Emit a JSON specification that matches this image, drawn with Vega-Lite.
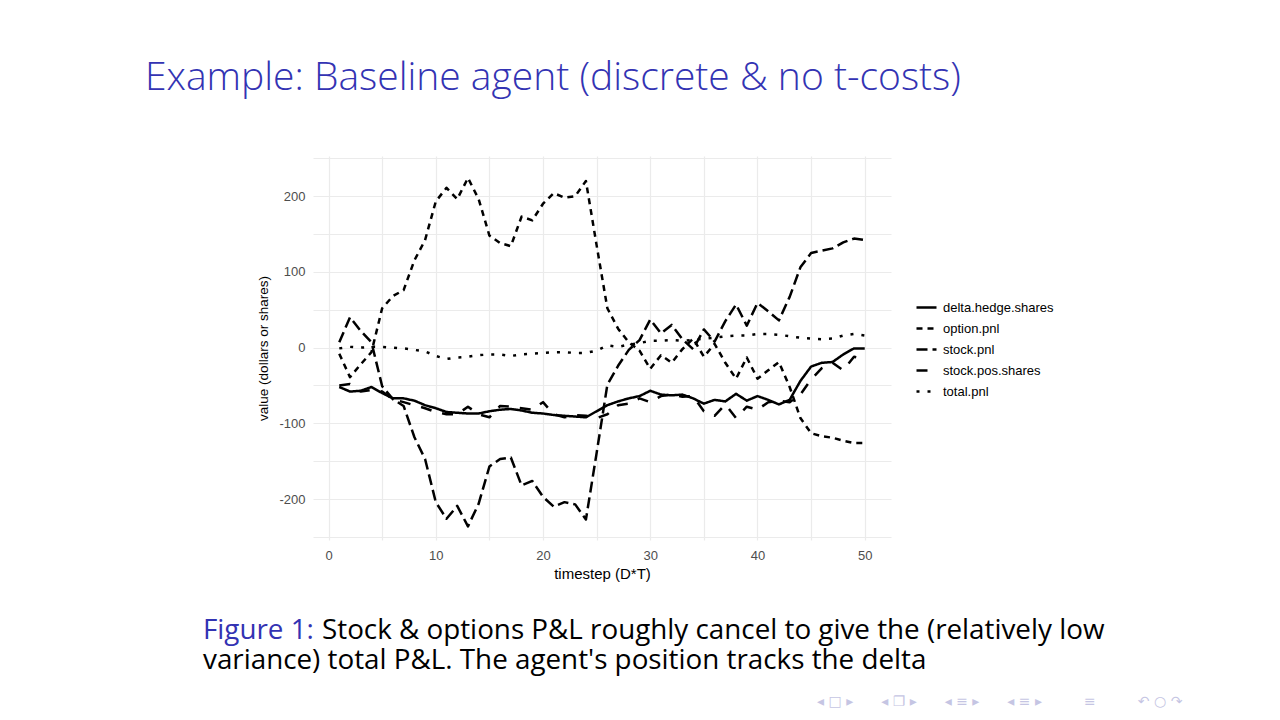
{
  "$schema": "https://vega.github.io/schema/vega-lite/v6.json",
  "background": "white",
  "padding": {"left": 145, "top": 59, "right": 0, "bottom": 0},
  "config": {"view": {"stroke": null}, "concat": {"spacing": 0}},
  "title": {"text": "◂ □ ▸\u2003\u2003◂ ❐ ▸\u2003\u2003◂ ≡ ▸\u2003\u2003◂ ≡ ▸\u2003\u2003\u2003≡\u2003\u2003\u2003↶ ○ ↷", "orient": "bottom", "anchor": "start", "frame": "group", "dx": 504, "offset": 31, "baseline": "alphabetic", "font": "DejaVu Sans", "fontSize": 14, "fontWeight": "normal", "color": "#c5c5e3"},
  "vconcat": [{
    "title": {"text": "Figure 1:", "orient": "bottom", "anchor": "start", "frame": "group", "dx": -110, "offset": -35.6, "baseline": "alphabetic", "font": "Open Sans", "fontSize": 27.8, "fontWeight": "normal", "color": "#3333b3"},
    "vconcat": [{
      "title": {"text": "variance) total P&L. The agent's position tracks the delta", "orient": "bottom", "anchor": "start", "frame": "group", "dx": -110, "offset": 24.4, "baseline": "alphabetic", "font": "Open Sans", "fontSize": 27.8, "fontWeight": "normal", "color": "black"},
      "vconcat": [{
        "title": {"text": "Stock & options P&L roughly cancel to give the (relatively low", "orient": "bottom", "anchor": "start", "frame": "group", "dx": 9, "offset": 58, "baseline": "alphabetic", "font": "Open Sans", "fontSize": 27.8, "fontWeight": "normal", "color": "black"},
        "vconcat": [{
          "title": {"text": "Example: Baseline agent (discrete & no t-costs)", "orient": "top", "anchor": "start", "frame": "group", "dx": -168, "offset": 23, "baseline": "alphabetic", "font": "Open Sans", "fontSize": 39, "fontWeight": 300, "color": "#3333b3"},
          "width": 578,
          "height": 384,
          "data": {"values": [
            {"t":1,"series":"delta.hedge.shares","value":-52},{"t":2,"series":"delta.hedge.shares","value":-58},{"t":3,"series":"delta.hedge.shares","value":-57},{"t":4,"series":"delta.hedge.shares","value":-52},{"t":5,"series":"delta.hedge.shares","value":-60},{"t":6,"series":"delta.hedge.shares","value":-67},{"t":7,"series":"delta.hedge.shares","value":-67},{"t":8,"series":"delta.hedge.shares","value":-70},{"t":9,"series":"delta.hedge.shares","value":-76},{"t":10,"series":"delta.hedge.shares","value":-80},
            {"t":11,"series":"delta.hedge.shares","value":-85},{"t":12,"series":"delta.hedge.shares","value":-86},{"t":13,"series":"delta.hedge.shares","value":-87},{"t":14,"series":"delta.hedge.shares","value":-87},{"t":15,"series":"delta.hedge.shares","value":-84},{"t":16,"series":"delta.hedge.shares","value":-82},{"t":17,"series":"delta.hedge.shares","value":-81},{"t":18,"series":"delta.hedge.shares","value":-83},{"t":19,"series":"delta.hedge.shares","value":-86},{"t":20,"series":"delta.hedge.shares","value":-87},
            {"t":21,"series":"delta.hedge.shares","value":-89},{"t":22,"series":"delta.hedge.shares","value":-90},{"t":23,"series":"delta.hedge.shares","value":-91},{"t":24,"series":"delta.hedge.shares","value":-92},{"t":25,"series":"delta.hedge.shares","value":-84},{"t":26,"series":"delta.hedge.shares","value":-76},{"t":27,"series":"delta.hedge.shares","value":-71},{"t":28,"series":"delta.hedge.shares","value":-67},{"t":29,"series":"delta.hedge.shares","value":-64},{"t":30,"series":"delta.hedge.shares","value":-57},
            {"t":31,"series":"delta.hedge.shares","value":-62},{"t":32,"series":"delta.hedge.shares","value":-63},{"t":33,"series":"delta.hedge.shares","value":-62},{"t":34,"series":"delta.hedge.shares","value":-67},{"t":35,"series":"delta.hedge.shares","value":-74},{"t":36,"series":"delta.hedge.shares","value":-69},{"t":37,"series":"delta.hedge.shares","value":-71},{"t":38,"series":"delta.hedge.shares","value":-61},{"t":39,"series":"delta.hedge.shares","value":-70},{"t":40,"series":"delta.hedge.shares","value":-64},
            {"t":41,"series":"delta.hedge.shares","value":-69},{"t":42,"series":"delta.hedge.shares","value":-75},{"t":43,"series":"delta.hedge.shares","value":-69},{"t":44,"series":"delta.hedge.shares","value":-44},{"t":45,"series":"delta.hedge.shares","value":-25},{"t":46,"series":"delta.hedge.shares","value":-20},{"t":47,"series":"delta.hedge.shares","value":-19},{"t":48,"series":"delta.hedge.shares","value":-9},{"t":49,"series":"delta.hedge.shares","value":-1},{"t":50,"series":"delta.hedge.shares","value":-1},

            {"t":1,"series":"option.pnl","value":-8},{"t":2,"series":"option.pnl","value":-39},{"t":3,"series":"option.pnl","value":-22},{"t":4,"series":"option.pnl","value":-6},{"t":5,"series":"option.pnl","value":52},{"t":6,"series":"option.pnl","value":68},{"t":7,"series":"option.pnl","value":76},{"t":8,"series":"option.pnl","value":115},{"t":9,"series":"option.pnl","value":142},{"t":10,"series":"option.pnl","value":193},
            {"t":11,"series":"option.pnl","value":211},{"t":12,"series":"option.pnl","value":196},{"t":13,"series":"option.pnl","value":224},{"t":14,"series":"option.pnl","value":196},{"t":15,"series":"option.pnl","value":148},{"t":16,"series":"option.pnl","value":138},{"t":17,"series":"option.pnl","value":134},{"t":18,"series":"option.pnl","value":173},{"t":19,"series":"option.pnl","value":168},{"t":20,"series":"option.pnl","value":190},
            {"t":21,"series":"option.pnl","value":204},{"t":22,"series":"option.pnl","value":198},{"t":23,"series":"option.pnl","value":200},{"t":24,"series":"option.pnl","value":220},{"t":25,"series":"option.pnl","value":135},{"t":26,"series":"option.pnl","value":52},{"t":27,"series":"option.pnl","value":25},{"t":28,"series":"option.pnl","value":7},{"t":29,"series":"option.pnl","value":-4},{"t":30,"series":"option.pnl","value":-28},
            {"t":31,"series":"option.pnl","value":-10},{"t":32,"series":"option.pnl","value":-20},{"t":33,"series":"option.pnl","value":-2},{"t":34,"series":"option.pnl","value":12},{"t":35,"series":"option.pnl","value":-12},{"t":36,"series":"option.pnl","value":5},{"t":37,"series":"option.pnl","value":-20},{"t":38,"series":"option.pnl","value":-41},{"t":39,"series":"option.pnl","value":-13},{"t":40,"series":"option.pnl","value":-41},
            {"t":41,"series":"option.pnl","value":-30},{"t":42,"series":"option.pnl","value":-19},{"t":43,"series":"option.pnl","value":-52},{"t":44,"series":"option.pnl","value":-93},{"t":45,"series":"option.pnl","value":-113},{"t":46,"series":"option.pnl","value":-117},{"t":47,"series":"option.pnl","value":-119},{"t":48,"series":"option.pnl","value":-123},{"t":49,"series":"option.pnl","value":-126},{"t":50,"series":"option.pnl","value":-126},

            {"t":1,"series":"stock.pnl","value":7},{"t":2,"series":"stock.pnl","value":40},{"t":3,"series":"stock.pnl","value":22},{"t":4,"series":"stock.pnl","value":7},{"t":5,"series":"stock.pnl","value":-51},{"t":6,"series":"stock.pnl","value":-68},{"t":7,"series":"stock.pnl","value":-77},{"t":8,"series":"stock.pnl","value":-118},{"t":9,"series":"stock.pnl","value":-147},{"t":10,"series":"stock.pnl","value":-204},
            {"t":11,"series":"stock.pnl","value":-226},{"t":12,"series":"stock.pnl","value":-209},{"t":13,"series":"stock.pnl","value":-236},{"t":14,"series":"stock.pnl","value":-206},{"t":15,"series":"stock.pnl","value":-157},{"t":16,"series":"stock.pnl","value":-147},{"t":17,"series":"stock.pnl","value":-145},{"t":18,"series":"stock.pnl","value":-182},{"t":19,"series":"stock.pnl","value":-176},{"t":20,"series":"stock.pnl","value":-197},
            {"t":21,"series":"stock.pnl","value":-210},{"t":22,"series":"stock.pnl","value":-204},{"t":23,"series":"stock.pnl","value":-207},{"t":24,"series":"stock.pnl","value":-227},{"t":25,"series":"stock.pnl","value":-139},{"t":26,"series":"stock.pnl","value":-49},{"t":27,"series":"stock.pnl","value":-24},{"t":28,"series":"stock.pnl","value":-3},{"t":29,"series":"stock.pnl","value":10},{"t":30,"series":"stock.pnl","value":37},
            {"t":31,"series":"stock.pnl","value":19},{"t":32,"series":"stock.pnl","value":30},{"t":33,"series":"stock.pnl","value":11},{"t":34,"series":"stock.pnl","value":-2},{"t":35,"series":"stock.pnl","value":24},{"t":36,"series":"stock.pnl","value":8},{"t":37,"series":"stock.pnl","value":35},{"t":38,"series":"stock.pnl","value":57},{"t":39,"series":"stock.pnl","value":29},{"t":40,"series":"stock.pnl","value":59},
            {"t":41,"series":"stock.pnl","value":48},{"t":42,"series":"stock.pnl","value":36},{"t":43,"series":"stock.pnl","value":67},{"t":44,"series":"stock.pnl","value":106},{"t":45,"series":"stock.pnl","value":125},{"t":46,"series":"stock.pnl","value":128},{"t":47,"series":"stock.pnl","value":131},{"t":48,"series":"stock.pnl","value":139},{"t":49,"series":"stock.pnl","value":144},{"t":50,"series":"stock.pnl","value":142},

            {"t":1,"series":"stock.pos.shares","value":-50},{"t":2,"series":"stock.pos.shares","value":-48},{"t":3,"series":"stock.pos.shares","value":-58},{"t":4,"series":"stock.pos.shares","value":-56},{"t":5,"series":"stock.pos.shares","value":-58},{"t":6,"series":"stock.pos.shares","value":-68},{"t":7,"series":"stock.pos.shares","value":-72},{"t":8,"series":"stock.pos.shares","value":-76},{"t":9,"series":"stock.pos.shares","value":-80},{"t":10,"series":"stock.pos.shares","value":-85},
            {"t":11,"series":"stock.pos.shares","value":-88},{"t":12,"series":"stock.pos.shares","value":-88},{"t":13,"series":"stock.pos.shares","value":-78},{"t":14,"series":"stock.pos.shares","value":-88},{"t":15,"series":"stock.pos.shares","value":-92},{"t":16,"series":"stock.pos.shares","value":-77},{"t":17,"series":"stock.pos.shares","value":-78},{"t":18,"series":"stock.pos.shares","value":-80},{"t":19,"series":"stock.pos.shares","value":-82},{"t":20,"series":"stock.pos.shares","value":-72},
            {"t":21,"series":"stock.pos.shares","value":-88},{"t":22,"series":"stock.pos.shares","value":-92},{"t":23,"series":"stock.pos.shares","value":-89},{"t":24,"series":"stock.pos.shares","value":-90},{"t":25,"series":"stock.pos.shares","value":-93},{"t":26,"series":"stock.pos.shares","value":-88},{"t":27,"series":"stock.pos.shares","value":-76},{"t":28,"series":"stock.pos.shares","value":-74},{"t":29,"series":"stock.pos.shares","value":-67},{"t":30,"series":"stock.pos.shares","value":-72},
            {"t":31,"series":"stock.pos.shares","value":-64},{"t":32,"series":"stock.pos.shares","value":-62},{"t":33,"series":"stock.pos.shares","value":-65},{"t":34,"series":"stock.pos.shares","value":-64},{"t":35,"series":"stock.pos.shares","value":-84},{"t":36,"series":"stock.pos.shares","value":-90},{"t":37,"series":"stock.pos.shares","value":-75},{"t":38,"series":"stock.pos.shares","value":-93},{"t":39,"series":"stock.pos.shares","value":-78},{"t":40,"series":"stock.pos.shares","value":-82},
            {"t":41,"series":"stock.pos.shares","value":-72},{"t":42,"series":"stock.pos.shares","value":-70},{"t":43,"series":"stock.pos.shares","value":-72},{"t":44,"series":"stock.pos.shares","value":-62},{"t":45,"series":"stock.pos.shares","value":-42},{"t":46,"series":"stock.pos.shares","value":-27},{"t":47,"series":"stock.pos.shares","value":-20},{"t":48,"series":"stock.pos.shares","value":-30},{"t":49,"series":"stock.pos.shares","value":-12},{"t":50,"series":"stock.pos.shares","value":-15},

            {"t":1,"series":"total.pnl","value":-1},{"t":2,"series":"total.pnl","value":1},{"t":3,"series":"total.pnl","value":0},{"t":4,"series":"total.pnl","value":1},{"t":5,"series":"total.pnl","value":1},{"t":6,"series":"total.pnl","value":0},{"t":7,"series":"total.pnl","value":-1},{"t":8,"series":"total.pnl","value":-3},{"t":9,"series":"total.pnl","value":-5},{"t":10,"series":"total.pnl","value":-11},
            {"t":11,"series":"total.pnl","value":-15},{"t":12,"series":"total.pnl","value":-13},{"t":13,"series":"total.pnl","value":-12},{"t":14,"series":"total.pnl","value":-10},{"t":15,"series":"total.pnl","value":-9},{"t":16,"series":"total.pnl","value":-9},{"t":17,"series":"total.pnl","value":-11},{"t":18,"series":"total.pnl","value":-9},{"t":19,"series":"total.pnl","value":-8},{"t":20,"series":"total.pnl","value":-7},
            {"t":21,"series":"total.pnl","value":-6},{"t":22,"series":"total.pnl","value":-6},{"t":23,"series":"total.pnl","value":-7},{"t":24,"series":"total.pnl","value":-7},{"t":25,"series":"total.pnl","value":-4},{"t":26,"series":"total.pnl","value":3},{"t":27,"series":"total.pnl","value":1},{"t":28,"series":"total.pnl","value":4},{"t":29,"series":"total.pnl","value":6},{"t":30,"series":"total.pnl","value":9},
            {"t":31,"series":"total.pnl","value":9},{"t":32,"series":"total.pnl","value":10},{"t":33,"series":"total.pnl","value":9},{"t":34,"series":"total.pnl","value":10},{"t":35,"series":"total.pnl","value":12},{"t":36,"series":"total.pnl","value":13},{"t":37,"series":"total.pnl","value":15},{"t":38,"series":"total.pnl","value":16},{"t":39,"series":"total.pnl","value":16},{"t":40,"series":"total.pnl","value":18},
            {"t":41,"series":"total.pnl","value":18},{"t":42,"series":"total.pnl","value":17},{"t":43,"series":"total.pnl","value":15},{"t":44,"series":"total.pnl","value":13},{"t":45,"series":"total.pnl","value":12},{"t":46,"series":"total.pnl","value":11},{"t":47,"series":"total.pnl","value":12},{"t":48,"series":"total.pnl","value":16},{"t":49,"series":"total.pnl","value":18},{"t":50,"series":"total.pnl","value":16}
          ]},
          "mark": {"type": "line", "color": "black", "strokeWidth": 2.5, "strokeCap": "butt", "strokeJoin": "round", "clip": true},
          "encoding": {
            "x": {"field": "t", "type": "quantitative",
                  "scale": {"domain": [-1.45, 52.45], "nice": false, "zero": false},
                  "axis": {"values": [0,5,10,15,20,25,30,35,40,45,50],
                           "labelExpr": "datum.value % 10 === 0 ? datum.label : ''",
                           "title": "timestep (D*T)", "grid": true, "gridColor": "#ebebeb", "gridWidth": 1.2,
                           "ticks": false, "domain": false, "labelFlush": false, "labelOverlap": false,
                           "labelPadding": 9, "labelFont": "Liberation Sans", "labelFontSize": 13, "labelColor": "#4d4d4d",
                           "titleFont": "Liberation Sans", "titleFontSize": 15, "titleFontWeight": "normal", "titleColor": "black", "titlePadding": 4}},
            "y": {"field": "value", "type": "quantitative",
                  "scale": {"domain": [-254, 253], "nice": false, "zero": false},
                  "axis": {"values": [-250,-200,-150,-100,-50,0,50,100,150,200,250],
                           "labelExpr": "datum.value % 100 === 0 ? (datum.value < 0 ? '-' + abs(datum.value) : '' + datum.value) : ''",
                           "title": "value (dollars or shares)", "grid": true, "gridColor": "#ebebeb", "gridWidth": 1.2,
                           "ticks": false, "domain": false, "labelFlush": false, "labelOverlap": false,
                           "labelPadding": 8, "labelFont": "Liberation Sans", "labelFontSize": 13, "labelColor": "#4d4d4d",
                           "titleFont": "Liberation Sans", "titleFontSize": 13.5, "titleFontWeight": "normal", "titleColor": "black", "titlePadding": 8}},
            "strokeDash": {"field": "series", "type": "nominal",
                  "scale": {"domain": ["delta.hedge.shares", "option.pnl", "stock.pnl", "stock.pos.shares", "total.pnl"],
                            "range": [[1, 0], [6, 5], [11, 5], [11, 11], [3, 8]]},
                  "legend": {"title": null, "orient": "none", "legendX": 602, "legendY": 140, "padding": 0,
                             "symbolType": "stroke", "symbolSize": 400, "symbolStrokeWidth": 2.5, "symbolStrokeColor": "black",
                             "labelFont": "Liberation Sans", "labelFontSize": 13, "labelColor": "black", "labelOffset": 5, "rowPadding": 2}}
          }
        }]
      }]
    }]
  }]
}
